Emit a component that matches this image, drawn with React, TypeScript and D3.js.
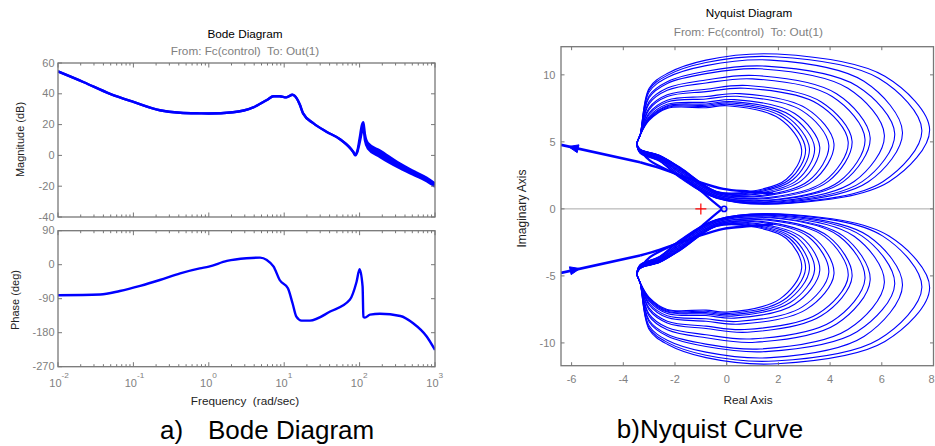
import React from 'react';
import * as d3 from 'd3';

const FONT = '"Liberation Sans", Arial, Helvetica, sans-serif';
const BLUE = '#0000ff';
const TICK_GRAY = '#808080';
const BOX_GRAY = '#777777';

// Bode magnitude: upper and lower edge of the family of responses (they coincide below the resonance)
const magFreq = [0.01, 0.022, 0.049, 0.1, 0.224, 0.417, 0.76, 1, 2.09, 3.89, 5.89, 7.24, 8.71, 10.7, 12.9, 13.8, 16.2, 17.8, 24.5, 36.3, 55, 83.2, 87.1, 93.3, 100, 107, 112.2, 117.5, 128.8, 186, 347, 537, 776, 1000];
const magUpperDb = [54.5, 47.5, 40, 34.7, 29.3, 27.7, 27.3, 27.2, 28, 31.2, 36, 38.4, 38.4, 37.7, 39.4, 38.6, 32.7, 27.3, 20.8, 15.4, 10.5, 2.0, 0.6, 3, 11, 19.5, 21.5, 14, 8, 3.2, -5.5, -10.5, -14.5, -18.3];
const magLowerDb = [54.5, 47.5, 40, 34.7, 29.3, 27.7, 27.3, 27.2, 28, 31.2, 36, 38.4, 38.4, 37.7, 39.4, 38.6, 32.7, 27.3, 20.8, 15.4, 10.5, 1.8, 0, 2.2, 8, 15, 18, 10, 4.5, -1, -8.5, -13, -16.8, -20.3];

// Bode phase
const phaseFreq = [0.01, 0.0363, 0.0661, 0.123, 0.224, 0.417, 0.759, 1, 1.74, 3.16, 4.79, 5.89, 7.24, 8.71, 11.2, 12.9, 14.5, 17.0, 21.9, 40.7, 74.1, 91.2, 100, 109.6, 112.2, 117.5, 138, 186, 347, 513, 776, 1000];
const phaseDeg = [-81, -79, -69.6, -56, -40.5, -22.8, -9.6, -5, 10, 17, 18.6, 12.4, -5, -40.5, -62.5, -102, -137.6, -148, -148, -124, -93, -45, -12, -58, -137.6, -140, -132, -130, -135.8, -155, -190, -225.8];

// Axis ticks
const magTicks = [-40, -20, 0, 20, 40, 60];
const phaseTicks = [-270, -180, -90, 0, 90];
const decadeExponents = [-2, -1, 0, 1, 2, 3];
const realTicks = [-6, -4, -2, 0, 2, 4, 6, 8];
const imagTicks = [-10, -5, 0, 5, 10];

// Nyquist: resonance loops of the upper half-plane, [re, im] points (lower half is the conjugate)
const upperLoops: number[][][] = [
  [[-3.35, 5.5], [-3.0, 6.6], [-2.3, 7.5], [-0.8, 7.55], [0.0, 7.7], [2.05, 6.73], [2.9, 4.4], [2.31, 2.21], [0.9, 1.3], [-0.4, 1.32], [-1.8, 3.1], [-2.6, 4.0], [-3.35, 4.45], [-3.47, 4.85]],
  [[-3.35, 5.5], [-3.0, 6.66], [-2.3, 7.57], [-0.8, 7.64], [0.1, 7.8], [2.19, 6.82], [3.05, 4.45], [2.43, 2.19], [0.95, 1.25], [-0.4, 1.3], [-1.8, 3.08], [-2.6, 3.99], [-3.35, 4.44], [-3.47, 4.85]],
  [[-3.35, 5.5], [-3.0, 6.72], [-2.3, 7.64], [-0.8, 7.73], [0.15, 7.9], [2.31, 6.9], [3.2, 4.5], [2.56, 2.17], [1.0, 1.2], [-0.4, 1.28], [-1.8, 3.06], [-2.6, 3.98], [-3.35, 4.43], [-3.47, 4.85]],
  [[-3.35, 5.5], [-3.0, 6.79], [-2.3, 7.7], [-0.8, 7.83], [0.2, 8.0], [2.46, 6.99], [3.4, 4.55], [2.73, 2.15], [1.1, 1.15], [-0.4, 1.26], [-1.8, 3.04], [-2.6, 3.96], [-3.35, 4.43], [-3.47, 4.85]],
  [[-3.35, 5.5], [-3.0, 6.88], [-2.3, 7.8], [-0.8, 7.96], [0.3, 8.15], [2.63, 7.11], [3.6, 4.6], [2.9, 2.13], [1.2, 1.1], [-0.4, 1.23], [-1.8, 3.0], [-2.6, 3.95], [-3.35, 4.41], [-3.47, 4.85]],
  [[-3.35, 5.5], [-3.0, 7.04], [-2.3, 7.97], [-0.8, 8.2], [0.4, 8.4], [2.91, 7.33], [3.95, 4.75], [3.17, 2.1], [1.3, 1.0], [-0.4, 1.19], [-1.8, 2.95], [-2.6, 3.92], [-3.35, 4.4], [-3.47, 4.85]],
  [[-3.35, 5.5], [-3.0, 7.16], [-2.3, 8.11], [-0.8, 8.38], [0.5, 8.6], [3.08, 7.5], [4.15, 4.85], [3.34, 2.09], [1.4, 0.95], [-0.4, 1.16], [-1.8, 2.9], [-2.6, 3.89], [-3.35, 4.38], [-3.47, 4.85]],
  [[-3.35, 5.5], [-3.0, 7.41], [-2.3, 8.38], [-0.8, 8.75], [0.7, 9.0], [3.53, 7.83], [4.7, 5.0], [3.79, 2.07], [1.6, 0.85], [-0.4, 1.1], [-1.8, 2.83], [-2.6, 3.85], [-3.35, 4.35], [-3.47, 4.85]],
  [[-3.35, 5.5], [-3.0, 7.54], [-2.3, 8.51], [-0.8, 8.93], [0.8, 9.2], [3.66, 7.98], [4.85, 5.05], [3.93, 2.05], [1.7, 0.8], [-0.4, 1.07], [-1.8, 2.78], [-2.6, 3.82], [-3.35, 4.33], [-3.47, 4.85]],
  [[-3.35, 5.5], [-3.0, 7.85], [-2.3, 8.85], [-0.8, 9.39], [1.0, 9.7], [4.08, 8.38], [5.35, 5.2], [4.34, 2.02], [1.9, 0.7], [-0.4, 1.0], [-1.8, 2.7], [-2.6, 3.77], [-3.35, 4.29], [-3.47, 4.85]],
  [[-3.35, 5.5], [-3.0, 8.0], [-2.3, 9.02], [-0.8, 9.62], [1.1, 9.95], [4.25, 8.59], [5.55, 5.3], [4.51, 2.03], [2.0, 0.68], [-0.4, 0.97], [-1.8, 2.64], [-2.6, 3.74], [-3.35, 4.27], [-3.47, 4.85]],
  [[-3.35, 5.5], [-3.0, 8.31], [-2.3, 9.36], [-0.8, 10.09], [1.3, 10.45], [4.69, 9.0], [6.1, 5.5], [4.93, 2.04], [2.1, 0.6], [-0.4, 0.91], [-1.8, 2.54], [-2.6, 3.68], [-3.35, 4.24], [-3.47, 4.85]],
  [[-3.35, 5.5], [-3.0, 8.44], [-2.3, 9.49], [-0.8, 10.27], [1.5, 10.65], [5.04, 9.17], [6.5, 5.6], [5.24, 2.03], [2.2, 0.55], [-0.4, 0.88], [-1.8, 2.5], [-2.6, 3.66], [-3.35, 4.22], [-3.47, 4.85]],
  [[-3.35, 5.5], [-3.0, 8.72], [-2.3, 9.8], [-0.8, 10.69], [1.7, 11.1], [5.31, 9.52], [6.8, 5.7], [5.48, 2.02], [2.3, 0.5], [-0.4, 0.84], [-1.8, 2.4], [-2.6, 3.6], [-3.35, 4.19], [-3.47, 4.85]],
  [[-3.35, 5.5], [-3.0, 8.88], [-2.3, 9.96], [-0.8, 10.92], [1.85, 11.35], [5.88, 9.74], [7.55, 5.85], [6.04, 2.03], [2.4, 0.45], [-0.4, 0.82], [-1.8, 2.35], [-2.6, 3.57], [-3.35, 4.17], [-3.47, 4.85]],
  [[-3.35, 5.5], [-3.0, 9.0], [-2.3, 10.1], [-0.8, 11.1], [1.95, 11.55], [6.12, 9.89], [7.85, 5.9], [6.28, 2.03], [2.5, 0.42], [-0.4, 0.8], [-1.8, 2.3], [-2.6, 3.55], [-3.35, 4.15], [-3.47, 4.85]],
];
const lowFreqLine = [[-6.41, 4.78], [-3.35, 3.48]];
const entryBand = [[-3.35, 3.48], [-2.58, 3.04], [-1.29, 2.16], [-0.13, 1.49], [0.9, 1.29], [1.8, 1.15]];
const originTail = [[-3.3, 4.3], [-2.97, 3.6], [-1.68, 2.3], [-1.03, 1.38], [-0.52, 0.54], [-0.2, 0.04]];
const arrowAt = [-5.9, 4.55];
const originMark = [-0.1, 0];
const criticalPoint = [-1, 0];

type TxtProps = {
  x: number; y: number; size: number; children: React.ReactNode;
  anchor?: 'start' | 'middle' | 'end'; fill?: string; sx?: number; rotate?: number;
};
function Txt({ x, y, size, children, anchor = 'start', fill = '#000', sx = 1, rotate = 0 }: TxtProps) {
  return (
    <text transform={`translate(${x},${y}) rotate(${rotate}) scale(${sx},1)`} fontSize={size}
      textAnchor={anchor} fill={fill} fontFamily={FONT} style={{ whiteSpace: 'pre' }}>{children}</text>
  );
}

const mirror = (pts: number[][]) => pts.map(([a, b]) => [a, -b]);

export default function App() {
  // ---------- Bode layout ----------
  const bx0 = 58, bx1 = 435;
  const magTop = 63, magBot = 217, phTop = 230.7, phBot = 366.7;
  const xF = d3.scaleLog().domain([0.01, 1000]).range([bx0, bx1]);
  const yMag = d3.scaleLinear().domain([-40, 60]).range([magBot, magTop]);
  const yPh = d3.scaleLinear().domain([-270, 90]).range([phBot, phTop]);
  const SX = 1.1; // horizontal stretch of the Bode figure texts

  const idx = d3.range(magFreq.length);
  const magUpperPath = d3.line<number>().x(i => xF(magFreq[i])).y(i => yMag(magUpperDb[i])).curve(d3.curveMonotoneX)(idx)!;
  const magLowerPath = d3.line<number>().x(i => xF(magFreq[i])).y(i => yMag(magLowerDb[i])).curve(d3.curveMonotoneX)(idx)!;
  const magBandPath = d3.area<number>().x(i => xF(magFreq[i])).y0(i => yMag(magLowerDb[i])).y1(i => yMag(magUpperDb[i])).curve(d3.curveMonotoneX)(idx)!;
  const phasePath = d3.line<number>().x(i => xF(phaseFreq[i])).y(i => yPh(phaseDeg[i])).curve(d3.curveMonotoneX)(d3.range(phaseFreq.length))!;

  const logTicks = xF.ticks();
  const isDecade = (v: number) => Math.abs(Math.log10(v) - Math.round(Math.log10(v))) < 1e-6;

  const panelTicks = (top: number, bot: number, ys: number[], yScale: d3.ScaleLinear<number, number>, key: string) => (
    <g key={key} stroke={BOX_GRAY} strokeWidth={1}>
      {logTicks.map((v, i) => {
        const x = xF(v); const len = isDecade(v) ? 4.5 : 2.5;
        return (
          <g key={i}>
            <line x1={x} x2={x} y1={top} y2={top + len} />
            <line x1={x} x2={x} y1={bot} y2={bot - len} />
          </g>
        );
      })}
      {ys.map(v => (
        <g key={v}>
          <line x1={bx0} x2={bx0 + 4} y1={yScale(v)} y2={yScale(v)} />
          <line x1={bx1} x2={bx1 - 4} y1={yScale(v)} y2={yScale(v)} />
        </g>
      ))}
      <rect x={bx0} y={top} width={bx1 - bx0} height={bot - top} fill="none" strokeWidth={1.3} />
    </g>
  );

  // ---------- Nyquist layout ----------
  const nx0 = 561, nx1 = 933.5, ny0 = 46.7, ny1 = 365.7;
  const xN = d3.scaleLinear().domain([-6.41, 8.0]).range([nx0, nx1]);
  const yN = d3.scaleLinear().domain([-11.7, 12.1]).range([ny1, ny0]);
  const smooth = d3.line<number[]>().x(p => xN(p[0])).y(p => yN(p[1])).curve(d3.curveCatmullRom.alpha(0.5));
  const straight = d3.line<number[]>().x(p => xN(p[0])).y(p => yN(p[1]));
  const loop = d3.line<number[]>().x(p => xN(p[0])).y(p => yN(p[1])).curve(d3.curveCatmullRomClosed.alpha(0.5));

  const arrow = (sign: number, pointLeft: boolean) => {
    const [ax, ay] = [xN(arrowAt[0]), yN(sign * arrowAt[1])];
    const [p0, p1] = [lowFreqLine[0], lowFreqLine[1]];
    let dx = xN(p0[0]) - xN(p1[0]);
    let dy = yN(sign * p0[1]) - yN(sign * p1[1]);
    const n = Math.hypot(dx, dy); dx /= n; dy /= n;
    if (!pointLeft) { dx = -dx; dy = -dy; }
    const tip = [ax + dx * 6, ay + dy * 6];
    const b1 = [ax - dx * 4 - dy * 4, ay - dy * 4 + dx * 4];
    const b2 = [ax - dx * 4 + dy * 4, ay - dy * 4 - dx * 4];
    return <polygon points={`${tip.join(',')} ${b1.join(',')} ${b2.join(',')}`} fill={BLUE} stroke={BLUE} strokeWidth={1} />;
  };

  const halves = [1, -1];

  return (
    <svg width={935} height={446} style={{ position: 'absolute', left: 0, top: 0, background: '#fff' }}>
      <defs>
        <clipPath id="magClip"><rect x={bx0} y={magTop} width={bx1 - bx0} height={magBot - magTop} /></clipPath>
        <clipPath id="phClip"><rect x={bx0} y={phTop} width={bx1 - bx0} height={phBot - phTop} /></clipPath>
        <clipPath id="nyqClip"><rect x={nx0} y={ny0} width={nx1 - nx0} height={ny1 - ny0} /></clipPath>
      </defs>
      <rect x={0} y={0} width={935} height={446} fill="#fff" />

      {/* ===== Bode diagram ===== */}
      <Txt x={245} y={38.3} size={10.7} sx={SX} anchor="middle">Bode Diagram</Txt>
      <Txt x={245} y={54.5} size={10.5} sx={1.12} anchor="middle" fill={TICK_GRAY}>From: Fc(control)  To: Out(1)</Txt>

      <g clipPath="url(#magClip)">
        <path d={magBandPath} fill={BLUE} stroke="none" />
        <path d={magUpperPath} fill="none" stroke={BLUE} strokeWidth={2.4} strokeLinejoin="round" />
        <path d={magLowerPath} fill="none" stroke={BLUE} strokeWidth={2.4} strokeLinejoin="round" />
      </g>
      <g clipPath="url(#phClip)">
        <path d={phasePath} fill="none" stroke={BLUE} strokeWidth={2.4} strokeLinejoin="round" />
      </g>
      {panelTicks(magTop, magBot, magTicks, yMag, 'mag')}
      {panelTicks(phTop, phBot, phaseTicks, yPh, 'ph')}

      {magTicks.map(v => (
        <Txt key={v} x={54.5} y={yMag(v) + 3.6} size={10} sx={SX} anchor="end" fill={TICK_GRAY}>{v}</Txt>
      ))}
      {phaseTicks.map(v => (
        <Txt key={v} x={54.5} y={yPh(v) + 3.6} size={10} sx={SX} anchor="end" fill={TICK_GRAY}>{v}</Txt>
      ))}
      {decadeExponents.map(e => {
        const x = xF(Math.pow(10, e));
        return (
          <g key={e}>
            <Txt x={x + 3.5} y={386.7} size={10} sx={SX} anchor="end" fill={TICK_GRAY}>10</Txt>
            <Txt x={x + 3.5} y={377.5} size={7.5} sx={SX} anchor="start" fill={TICK_GRAY}>{e}</Txt>
          </g>
        );
      })}
      <Txt x={245} y={405} size={10.5} sx={1.12} anchor="middle" fill="#222">Frequency  (rad/sec)</Txt>
      <Txt x={24} y={139.5} size={11} rotate={-90} anchor="middle" fill="#222">Magnitude (dB)</Txt>
      <Txt x={18.5} y={300} size={11} rotate={-90} anchor="middle" fill="#222">Phase (deg)</Txt>

      <Txt x={160} y={439.3} size={26} anchor="start">a)</Txt>
      <Txt x={208} y={439.3} size={26} anchor="start">Bode Diagram</Txt>

      {/* ===== Nyquist diagram ===== */}
      <Txt x={749} y={17} size={11.7} anchor="middle">Nyquist Diagram</Txt>
      <Txt x={748.3} y={35.5} size={11.8} anchor="middle" fill={TICK_GRAY}>From: Fc(control)  To: Out(1)</Txt>

      <g clipPath="url(#nyqClip)">
        <line x1={xN(0)} x2={xN(0)} y1={ny0} y2={ny1} stroke="#a8a8a8" strokeWidth={1} />
        <line x1={nx0} x2={nx1} y1={yN(0)} y2={yN(0)} stroke="#a8a8a8" strokeWidth={1} />
        {halves.map(s => (
          <g key={s}>
            {upperLoops.map((l, i) => (
              <path key={i} d={loop(s === 1 ? l : mirror(l))!} fill="none" stroke={BLUE} strokeWidth={1.1} />
            ))}
            <path d={straight(s === 1 ? lowFreqLine : mirror(lowFreqLine))!} fill="none" stroke={BLUE} strokeWidth={2.6} />
            <path d={smooth(s === 1 ? entryBand : mirror(entryBand))!} fill="none" stroke={BLUE} strokeWidth={2.4} />
            <path d={smooth(s === 1 ? originTail : mirror(originTail))!} fill="none" stroke={BLUE} strokeWidth={2.2} />
            {arrow(s, s === 1)}
          </g>
        ))}
        <circle cx={xN(originMark[0])} cy={yN(originMark[1])} r={2.6} fill="none" stroke={BLUE} strokeWidth={1.6} />
        <g stroke="#ff0000" strokeWidth={1.2}>
          <line x1={xN(criticalPoint[0]) - 5.5} x2={xN(criticalPoint[0]) + 5.5} y1={yN(criticalPoint[1])} y2={yN(criticalPoint[1])} />
          <line x1={xN(criticalPoint[0])} x2={xN(criticalPoint[0])} y1={yN(criticalPoint[1]) - 5.5} y2={yN(criticalPoint[1]) + 5.5} />
        </g>
      </g>

      <g stroke={BOX_GRAY} strokeWidth={1}>
        {realTicks.map(v => (
          <g key={v}>
            <line x1={xN(v)} x2={xN(v)} y1={ny0} y2={ny0 + 3.5} />
            <line x1={xN(v)} x2={xN(v)} y1={ny1} y2={ny1 - 3.5} />
          </g>
        ))}
        {imagTicks.map(v => (
          <g key={v}>
            <line x1={nx0} x2={nx0 + 3.5} y1={yN(v)} y2={yN(v)} />
            <line x1={nx1} x2={nx1 - 3.5} y1={yN(v)} y2={yN(v)} />
          </g>
        ))}
        <rect x={nx0} y={ny0} width={nx1 - nx0} height={ny1 - ny0} fill="none" strokeWidth={1.3} />
      </g>
      {realTicks.map(v => {
        const edge = xN(v) + 4 > 934;
        return (
          <Txt key={v} x={edge ? 934.5 : xN(v)} y={383} size={11} anchor={edge ? 'end' : 'middle'} fill={TICK_GRAY}>{v}</Txt>
        );
      })}
      {imagTicks.map(v => (
        <Txt key={v} x={555.5} y={yN(v) + 4} size={11} anchor="end" fill={TICK_GRAY}>{v}</Txt>
      ))}
      <Txt x={748} y={403.5} size={11.8} anchor="middle" fill="#222">Real Axis</Txt>
      <Txt x={526} y={208.5} size={12} rotate={-90} anchor="middle" fill="#222">Imaginary Axis</Txt>

      <Txt x={710} y={437.5} size={26} anchor="middle">b)Nyquist Curve</Txt>
    </svg>
  );
}
